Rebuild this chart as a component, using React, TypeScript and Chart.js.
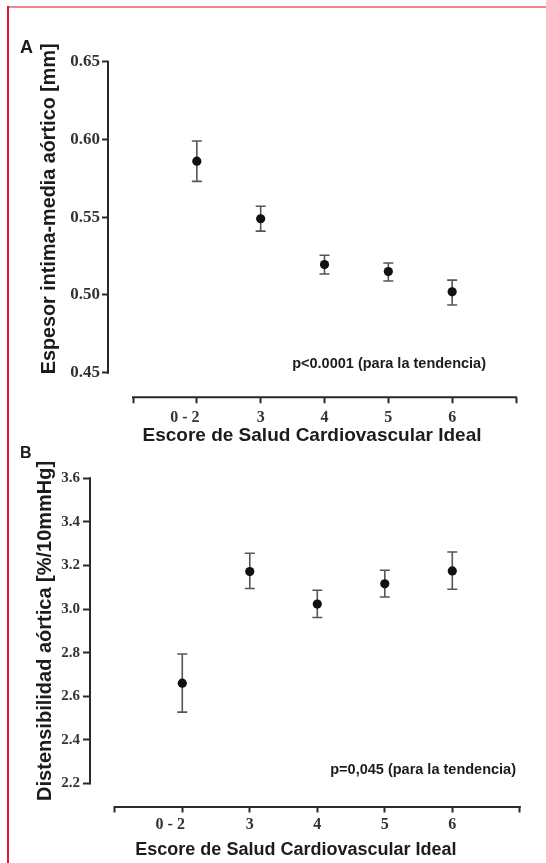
import React, { useEffect, useRef } from "react";
import { Chart, registerables } from "chart.js";

Chart.register(...registerables);

// ---------- data ----------
const categories = ["0 - 2", "3", "4", "5", "6"];

const imtMean = [0.586, 0.549, 0.5195, 0.515, 0.502];
const imtLow = [0.573, 0.541, 0.5135, 0.509, 0.4935];
const imtHigh = [0.599, 0.557, 0.5255, 0.5205, 0.5095];
const imtTicks = [0.45, 0.5, 0.55, 0.6, 0.65];

const distMean = [2.66, 3.172, 3.023, 3.116, 3.175];
const distLow = [2.527, 3.094, 2.961, 3.055, 3.091];
const distHigh = [2.794, 3.256, 3.086, 3.178, 3.262];
const distTicks = [2.2, 2.4, 2.6, 2.8, 3.0, 3.2, 3.4, 3.6];

const xTickValues = [0, ...categories.map((_, i) => i + 1), categories.length + 1];

// ---------- style ----------
const SERIF = "'Liberation Serif', 'Times New Roman', serif";
const SANS = "'Liberation Sans', Arial, sans-serif";
const AXIS = "#2a2a2a";
const TICK = "#333333";
const TITLE = "#1c1c1c";
const ERR = "#555555";

type PanelProps = {
  top: number;
  height: number;
  mean: number[];
  low: number[];
  high: number[];
  yTicks: number[];
  yMin: number;
  yMax: number;
  xMin: number;
  xMax: number;
  padTop: number;
  padRight: number;
  yWidth: number;
  chartBottom: number;
  xGap: number;
  yTickLen: number;
  xTickLen: number;
  yTickFont: number;
  xTickFont: number;
  yTickPad: number;
  xTickPad: number;
  decimals: number;
  yTitle: string;
  yTitleFont: number;
  yTitlePad: number;
  xTitle: string;
  xTitleFont: number;
  xTitlePad: number;
  xTitleShift: number;
  note: string;
  noteX: number;
  noteY: number;
  label: string;
  labelX: number;
  labelY: number;
  labelFont: number;
};

function Panel(p: PanelProps) {
  const ref = useRef<HTMLCanvasElement | null>(null);

  useEffect(() => {
    if (!ref.current) return;

    const errorBars = {
      id: "errorBars",
      beforeDatasetsDraw(chart: any) {
        const { ctx } = chart;
        const xs = chart.scales.x;
        const ys = chart.scales.y;
        ctx.save();
        ctx.strokeStyle = ERR;
        ctx.lineWidth = 1.6;
        p.mean.forEach((_, i) => {
          const x = xs.getPixelForValue(i + 1);
          const yl = ys.getPixelForValue(p.low[i]);
          const yh = ys.getPixelForValue(p.high[i]);
          ctx.beginPath();
          ctx.moveTo(x, yl);
          ctx.lineTo(x, yh);
          ctx.moveTo(x - 5, yl);
          ctx.lineTo(x + 5, yl);
          ctx.moveTo(x - 5, yh);
          ctx.lineTo(x + 5, yh);
          ctx.stroke();
        });
        ctx.restore();
      },
    };

    const axes = {
      id: "axesLines",
      afterDraw(chart: any) {
        const { ctx, chartArea } = chart;
        const xs = chart.scales.x;
        const ys = chart.scales.y;
        ctx.save();
        ctx.strokeStyle = AXIS;
        ctx.lineWidth = 2;
        ctx.beginPath();
        const y0 = ys.getPixelForValue(p.yTicks[0]);
        const y1 = ys.getPixelForValue(p.yTicks[p.yTicks.length - 1]);
        ctx.moveTo(chartArea.left, y0 + 1);
        ctx.lineTo(chartArea.left, y1 - 1);
        const xa = xs.getPixelForValue(xTickValues[0]);
        const xb = xs.getPixelForValue(xTickValues[xTickValues.length - 1]);
        const yy = chartArea.bottom + p.xGap;
        ctx.moveTo(xa - 1, yy);
        ctx.lineTo(xb + 1, yy);
        ctx.stroke();

        ctx.fillStyle = TITLE;
        ctx.font = `bold 14.5px ${SANS}`;
        ctx.textAlign = "right";
        ctx.textBaseline = "middle";
        ctx.fillText(p.note, p.noteX, p.noteY);

        ctx.font = `bold ${p.labelFont}px ${SANS}`;
        ctx.textAlign = "left";
        ctx.textBaseline = "alphabetic";
        ctx.fillText(p.label, p.labelX, p.labelY);
        ctx.restore();
      },
    };

    const chart = new Chart(ref.current, {
      type: "scatter",
      data: {
        datasets: [
          {
            data: p.mean.map((m, i) => ({ x: i + 1, y: m })),
            pointRadius: 4.6,
            pointBackgroundColor: "#111111",
            pointBorderWidth: 0,
            showLine: false,
          },
        ],
      },
      options: {
        animation: false,
        responsive: true,
        maintainAspectRatio: false,
        layout: { padding: { left: 0, top: p.padTop, right: p.padRight, bottom: 0 } },
        plugins: { legend: { display: false }, tooltip: { enabled: false } },
        scales: {
          x: {
            type: "linear",
            min: p.xMin,
            max: p.xMax,
            afterBuildTicks: (s: any) => {
              s.ticks = xTickValues.map((v) => ({ value: v }));
            },
            afterFit: (s: any) => {
              s.height = p.height - p.chartBottom;
            },
            border: { display: false },
            grid: {
              display: true,
              drawOnChartArea: false,
              drawTicks: true,
              tickLength: p.xGap + p.xTickLen,
              tickWidth: 2,
              tickColor: AXIS,
              tickBorderDash: [0, p.xGap, p.xTickLen, 1000],
            },
            ticks: {
              autoSkip: false,
              maxRotation: 0,
              minRotation: 0,
              padding: p.xTickPad,
              color: TICK,
              font: { family: SERIF, size: p.xTickFont, weight: "bold" },
              callback: (v: any) => {
                const i = Math.round(Number(v)) - 1;
                if (i < 0 || i >= categories.length) return "";
                return i === 0 ? categories[i] + "\u2002\u2002\u2002" : categories[i];
              },
            },
            title: {
              display: true,
              text: p.xTitle + "\u2002".repeat(p.xTitleShift),
              color: TITLE,
              font: { family: SANS, size: p.xTitleFont, weight: "bold" },
              padding: { top: 0, bottom: p.xTitlePad },
            },
          },
          y: {
            type: "linear",
            min: p.yMin,
            max: p.yMax,
            afterBuildTicks: (s: any) => {
              s.ticks = p.yTicks.map((v) => ({ value: v }));
            },
            afterFit: (s: any) => {
              s.width = p.yWidth;
            },
            border: { display: false },
            grid: {
              display: true,
              drawOnChartArea: false,
              drawTicks: true,
              tickLength: p.yTickLen,
              tickWidth: 2,
              tickColor: AXIS,
            },
            ticks: {
              autoSkip: false,
              padding: p.yTickPad,
              color: TICK,
              font: { family: SERIF, size: p.yTickFont, weight: "bold" },
              callback: (v: any) => Number(v).toFixed(p.decimals),
            },
            title: {
              display: true,
              text: p.yTitle,
              color: TITLE,
              font: { family: SANS, size: p.yTitleFont, weight: "bold" },
              padding: { top: p.yTitlePad, bottom: 0 },
            },
          },
        },
      },
      plugins: [errorBars, axes],
    } as any);

    return () => chart.destroy();
  }, []);

  return (
    <div style={{ position: "absolute", left: 0, top: p.top, width: 546, height: p.height }}>
      <canvas ref={ref} />
    </div>
  );
}

export default function App() {
  return (
    <div style={{ position: "absolute", left: 0, top: 0, width: 546, height: 863, background: "#ffffff", overflow: "hidden" }}>
      <div style={{ position: "absolute", left: 8, top: 6, width: 538, height: 2, background: "#f3838f" }} />
      <div style={{ position: "absolute", left: 7, top: 6, width: 2, height: 857, background: "#e2162f" }} />
      <Panel
        top={0}
        height={450}
        mean={imtMean}
        low={imtLow}
        high={imtHigh}
        yTicks={imtTicks}
        yMin={0.45}
        yMax={0.6607}
        xMin={-0.3917}
        xMax={6}
        padTop={45}
        padRight={30}
        yWidth={108}
        chartBottom={372.7}
        xGap={24.6}
        yTickLen={6}
        xTickLen={6}
        yTickFont={17}
        xTickFont={16}
        yTickPad={2}
        xTickPad={5}
        decimals={2}
        yTitle="Espesor intima-media aórtico [mm]"
        yTitleFont={19.8}
        yTitlePad={37.2}
        xTitle="Escore de Salud Cardiovascular Ideal"
        xTitleFont={19}
        xTitlePad={2.6}
        xTitleShift={0}
        note="p<0.0001 (para la tendencia)"
        noteX={486}
        noteY={364}
        label="A"
        labelX={20}
        labelY={53}
        labelFont={18}
      />
      <Panel
        top={440}
        height={423}
        mean={distMean}
        low={distLow}
        high={distHigh}
        yTicks={distTicks}
        yMin={2.2}
        yMax={3.6}
        xMin={-0.367}
        xMax={6}
        padTop={38.3}
        padRight={26.2}
        yWidth={90}
        chartBottom={343.4}
        xGap={23.6}
        yTickLen={7}
        xTickLen={6}
        yTickFont={15}
        xTickFont={16}
        yTickPad={3}
        xTickPad={2.4}
        decimals={1}
        yTitle="Distensibilidad aórtica [%/10mmHg]"
        yTitleFont={20}
        yTitlePad={33}
        xTitle="Escore de Salud Cardiovascular Ideal"
        xTitleFont={18}
        xTitlePad={2.2}
        xTitleShift={2}
        note="p=0,045 (para la tendencia)"
        noteX={516}
        noteY={330}
        label="B"
        labelX={20}
        labelY={18.3}
        labelFont={16}
      />
    </div>
  );
}
